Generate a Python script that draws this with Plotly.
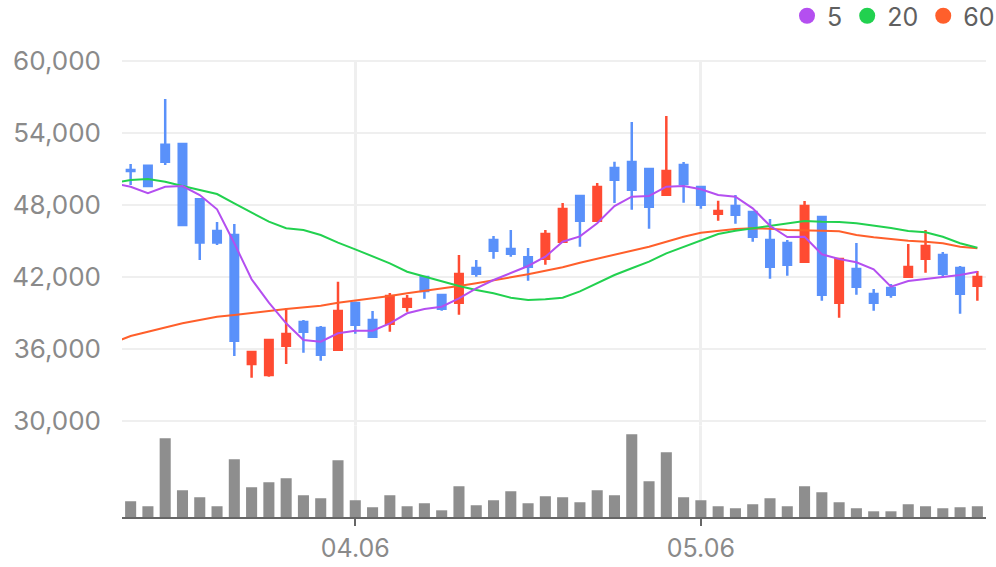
import plotly.graph_objects as go

# ---- data ----
idx = list(range(50))
open_ = [50950, 51300, 53050, 53100, 48500, 45850, 45520, 34780, 33860, 36300,
         38280, 37780, 35970, 39860, 38440, 38130, 39550, 42030, 40530, 39880,
         42780, 45110, 44360, 43670, 43550, 44970, 48780, 46720, 51110, 51610,
         51030, 48880, 51360, 49530, 47300, 47940, 47440, 45110, 44860, 43300,
         47030, 39880, 42690, 40610, 41110, 42050, 43550, 43860, 42780, 41300]
high = [51450, 51400, 56850, 53100, 48500, 46600, 46440, 35780, 36860, 39420,
        38440, 37940, 41630, 39980, 39190, 40690, 40530, 42030, 40610, 43860,
        43440, 45440, 45940, 44440, 45940, 48190, 48780, 49860, 51630, 54940,
        51030, 55440, 51610, 49530, 48380, 48860, 47440, 46860, 45110, 48360,
        47030, 43530, 44860, 41030, 41440, 44780, 45940, 44110, 42940, 42530]
low = [49700, 49600, 51350, 46350, 43450, 44700, 35440, 33630, 33720, 34780,
       35720, 35050, 35970, 37300, 37050, 37470, 39130, 40220, 39220, 38880,
       42050, 43550, 43720, 41720, 43050, 44970, 44550, 46720, 48190, 47630,
       46050, 48880, 48220, 47720, 46720, 46470, 44970, 41880, 42130, 43300,
       40050, 38630, 40550, 39220, 40300, 42050, 42380, 42050, 38970, 40050]
close = [50850, 49600, 51630, 46350, 44900, 44900, 36720, 35780, 36780, 37280,
         37470, 35550, 39190, 38050, 37050, 40440, 40190, 40860, 39380, 42280,
         42300, 44220, 43970, 42880, 45610, 47690, 46720, 49530, 50130, 49300,
         47880, 50860, 49780, 48050, 47530, 47220, 45380, 42880, 43050, 47940,
         40550, 43530, 41220, 39880, 40550, 42860, 44610, 42300, 40630, 42030]
volume = [157000, 107000, 787000, 267000, 197000, 107000, 577000, 297000, 347000, 387000,
          217000, 187000, 567000, 167000, 97000, 217000, 107000, 137000, 67000, 307000,
          117000, 167000, 257000, 137000, 207000, 197000, 147000, 267000, 217000, 827000,
          357000, 647000, 197000, 167000, 107000, 87000, 127000, 187000, 107000, 307000,
          247000, 147000, 87000, 57000, 57000, 127000, 107000, 87000, 97000, 107000]

# moving averages, starting one session before the first visible candle
ma_idx = list(range(-1, 50))
ma5 = [49820, 49550, 49000, 49550, 49608, 48858, 47667, 44833, 41833, 39883, 38167,
       36775, 36633, 37333, 37550, 37550, 38167, 39000, 39358, 39550, 40250,
       41083, 41775, 42333, 42942, 43717, 44967, 45410, 46500, 47942, 48717,
       48775, 49550, 49608, 49333, 48858, 48717, 47750, 46290, 45360, 45383,
       43917, 43525, 43250, 42667, 41217, 41692, 41858, 42050, 42192, 42467]
ma20 = [49858, 50108, 50192, 49967, 49608, 49275, 48942, 48167, 47417, 46633, 46083,
        45942, 45525, 44883, 44330, 43717, 43167, 42467, 42050, 41633, 41275,
        40942, 40667, 40300, 40108, 40167, 40300, 40830, 41500, 42192, 42750,
        43300, 44000, 44550, 45108, 45608, 45883, 46083, 46275, 46442, 46692,
        46633, 46608, 46500, 46333, 46108, 45858, 45750, 45383, 44833, 44467]
ma60 = [36550, 37108, 37467, 37833, 38167, 38442, 38717, 38858, 39000, 39192, 39358,
        39500, 39633, 39883, 40050, 40250, 40442, 40667, 40858, 41083, 41275,
        41500, 41775, 42000, 42250, 42525, 42833, 43217, 43550, 43883, 44217,
        44550, 44967, 45383, 45717, 45883, 46025, 46083, 46050, 45942, 45942,
        45883, 45833, 45525, 45333, 45167, 45050, 44967, 44833, 44550, 44417]

tick_index = [13, 33]
tick_labels = ["04.06", "05.06"]
price_ticks = [30000, 36000, 42000, 48000, 54000, 60000]
ma_names = ["5", "20", "60"]

# ---- styles ----
UP = "#ff4b32"
DOWN = "#5a91fa"
MA_COLORS = ["#b44ff0", "#22d14f", "#ff5f2b"]
GRID = "#efefef"
TEXT = "#8a8a8a"
FONT = "Inter"

fig = go.Figure()

fig.add_trace(go.Bar(
    x=idx, y=volume, yaxis="y2", marker=dict(color="#8e8e8e", line=dict(width=0)),
    showlegend=False, hoverinfo="skip"))

for vals, col in zip([ma60, ma20, ma5], [MA_COLORS[2], MA_COLORS[1], MA_COLORS[0]]):
    fig.add_trace(go.Scatter(
        x=ma_idx, y=vals, mode="lines", line=dict(color=col, width=2),
        showlegend=False, hoverinfo="skip"))

fig.add_trace(go.Candlestick(
    x=idx, open=open_, high=high, low=low, close=close,
    increasing=dict(line=dict(color=UP, width=2.5), fillcolor=UP),
    decreasing=dict(line=dict(color=DOWN, width=2.5), fillcolor=DOWN),
    whiskerwidth=0, showlegend=False))

for name, col in zip(ma_names, MA_COLORS):
    fig.add_trace(go.Scatter(
        x=[None], y=[None], mode="markers", name=name,
        marker=dict(color=col, size=16, symbol="circle")))

TOP, BOTTOM = 60, 50
H = 567
plot_h = H - TOP - BOTTOM
px_per_val = 12 / 1000.0  # 12 px per 1000 won
y_top_val = 60000 + (61.3 - TOP) / px_per_val
y_bot_val = y_top_val - plot_h / px_per_val

fig.update_layout(
    width=996, height=H,
    margin=dict(l=122, r=10, t=TOP, b=BOTTOM, pad=0, autoexpand=False),
    paper_bgcolor="white", plot_bgcolor="white",
    font=dict(family=FONT, color=TEXT, size=26),
    boxgap=0.38, bargap=0.36,
    showlegend=True,
    legend=dict(orientation="h", x=1 + 14 / 864, xanchor="right", y=1 + 44 / plot_h, yanchor="middle",
                font=dict(size=25, color="#606060", family=FONT),
                itemwidth=30, tracegroupgap=0, bgcolor="rgba(0,0,0,0)"),
    xaxis=dict(
        range=[-0.5, 49.5], tickvals=tick_index, ticktext=tick_labels,
        showgrid=True, gridcolor=GRID, gridwidth=3,
        showline=True, linecolor="#666666", linewidth=2,
        ticks="outside", ticklen=7, tickwidth=2, tickcolor="#666666",
        tickfont=dict(size=25, color=TEXT, family=FONT),
        ticklabelstandoff=1, automargin=False,
        rangeslider=dict(visible=False), zeroline=False, fixedrange=True),
    yaxis=dict(
        domain=[0, 1], range=[y_bot_val, y_top_val],
        tickvals=price_ticks, tickformat=",d",
        showgrid=True, gridcolor=GRID, gridwidth=2,
        showline=False, zeroline=False, ticks="",
        tickfont=dict(size=26, color=TEXT, family=FONT),
        ticklabelstandoff=20, automargin=False, fixedrange=True),
    yaxis2=dict(
        domain=[0, 0.2], range=[0, 914000 * plot_h / 457], anchor="x",
        showgrid=False, showticklabels=False, zeroline=False, showline=False,
        fixedrange=True),
)

fig.write_html("out.html")
